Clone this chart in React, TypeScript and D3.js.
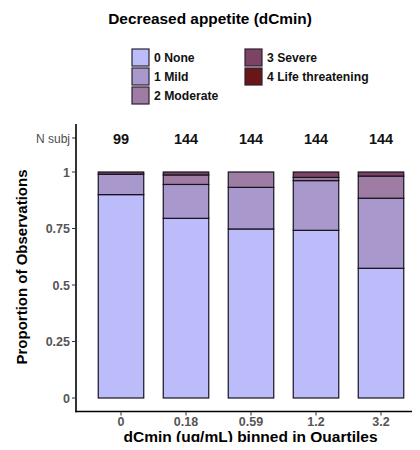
import React from "react";
import { scaleBand, scaleLinear, stack } from "d3";

// values
const categories = ["0", "0.18", "0.59", "1.2", "3.2"];
const nSubj = [99, 144, 144, 144, 144];
const grades = ["0 None", "1 Mild", "2 Moderate", "3 Severe", "4 Life threatening"];
const gradeColors = ["#bcbcfb", "#a898cc", "#9f7ca4", "#7c4365", "#6a1619"];
const none = [0.9, 0.795, 0.748, 0.742, 0.574];
const mild = [0.09, 0.15, 0.184, 0.22, 0.31];
const moderate = [0.0, 0.042, 0.068, 0.014, 0.098];
const severe = [0.01, 0.013, 0, 0.024, 0.018];
const lifeThreatening = [0, 0, 0, 0, 0];
const yTicks = [0, 0.25, 0.5, 0.75, 1];

const font = "'Liberation Sans', Arial, sans-serif";

export default function App() {
  const width = 420;
  const height = 450;
  const axisX = 76;
  const axisY = 411.5;

  const rows = categories.map((c, i) => ({
    cat: c,
    g0: none[i],
    g1: mild[i],
    g2: moderate[i],
    g3: severe[i],
    g4: lifeThreatening[i],
  }));
  const keys = ["g0", "g1", "g2", "g3", "g4"];
  const series = stack<any>().keys(keys)(rows);

  const x = scaleBand<string>()
    .domain(categories)
    .range([88.5, 413.5])
    .paddingInner(0.3)
    .paddingOuter(0.15);
  const y = scaleLinear().domain([0, 1]).range([398, 172]);

  const legendPos = [
    { x: 132, y: 49 },
    { x: 132, y: 68 },
    { x: 132, y: 87 },
    { x: 245, y: 49 },
    { x: 245, y: 68 },
  ];

  return (
    <div style={{ margin: -8 }}>
      <svg width={width} height={height} style={{ display: "block", background: "#fff" }}>
        <text
          x={210}
          y={24}
          textAnchor="middle"
          fontFamily={font}
          fontWeight="bold"
          fontSize={15.4}
          fill="#000"
        >
          Decreased appetite (dCmin)
        </text>

        {/* legend */}
        {grades.map((g, i) => (
          <g key={g}>
            <rect
              x={legendPos[i].x}
              y={legendPos[i].y}
              width={17}
              height={17}
              fill={gradeColors[i]}
              stroke="#2a2230"
              strokeWidth={1.2}
            />
            <text
              x={legendPos[i].x + 22}
              y={legendPos[i].y + 13}
              fontFamily={font}
              fontWeight="bold"
              fontSize={12.2}
              fill="#111"
            >
              {g}
            </text>
          </g>
        ))}

        {/* bars */}
        {series.map((s, si) =>
          s.map((d, i) =>
            d[1] - d[0] > 0 ? (
              <rect
                key={`${si}-${i}`}
                x={x(categories[i])}
                y={y(d[1])}
                width={x.bandwidth()}
                height={y(d[0]) - y(d[1])}
                fill={gradeColors[si]}
                stroke="#15131f"
                strokeWidth={1.2}
              />
            ) : null
          )
        )}

        {/* N subj row */}
        <line x1={axisX - 4} x2={axisX} y1={138} y2={138} stroke="#333" strokeWidth={1} />
        <text x={axisX - 6} y={142.5} textAnchor="end" fontFamily={font} fontSize={12} fill="#4d4d4d">
          N subj
        </text>
        {nSubj.map((n, i) => (
          <text
            key={i}
            x={(x(categories[i]) as number) + x.bandwidth() / 2}
            y={144}
            textAnchor="middle"
            fontFamily={font}
            fontWeight="bold"
            fontSize={14.5}
            fill="#111"
          >
            {n}
          </text>
        ))}

        {/* y axis */}
        <line x1={axisX} x2={axisX} y1={124} y2={axisY + 0.75} stroke="#000" strokeWidth={1.6} />
        {yTicks.map((t) => (
          <g key={t}>
            <line x1={axisX - 4} x2={axisX} y1={y(t)} y2={y(t)} stroke="#333" strokeWidth={1} />
            <text
              x={axisX - 6}
              y={y(t) + 4.5}
              textAnchor="end"
              fontFamily={font}
              fontWeight="bold"
              fontSize={12.5}
              fill="#555"
            >
              {t}
            </text>
          </g>
        ))}
        <text
          transform={`translate(27, 267) rotate(-90)`}
          textAnchor="middle"
          fontFamily={font}
          fontWeight="bold"
          fontSize={15}
          fill="#000"
        >
          Proportion of Observations
        </text>

        {/* x axis */}
        <line x1={axisX - 0.8} x2={418} y1={axisY} y2={axisY} stroke="#000" strokeWidth={1.6} />
        {categories.map((c) => {
          const cx = (x(c) as number) + x.bandwidth() / 2;
          return (
            <g key={c}>
              <line x1={cx} x2={cx} y1={axisY} y2={axisY + 4} stroke="#333" strokeWidth={1} />
              <text
                x={cx}
                y={425.5}
                textAnchor="middle"
                fontFamily={font}
                fontWeight="bold"
                fontSize={12.5}
                fill="#555"
              >
                {c}
              </text>
            </g>
          );
        })}
        <text
          x={250.5}
          y={441.5}
          textAnchor="middle"
          fontFamily={font}
          fontWeight="bold"
          fontSize={15.5}
          fill="#000"
        >
          dCmin (ug/mL) binned in Quartiles
        </text>
      </svg>
    </div>
  );
}
